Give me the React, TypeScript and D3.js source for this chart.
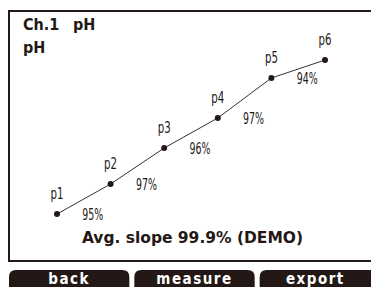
import React from "react";
import * as d3 from "d3";

const points = ["p1", "p2", "p3", "p4", "p5", "p6"];
const readings = [36, 66, 102, 132, 172, 190];
const slopes = ["95%", "97%", "96%", "97%", "94%"];
const buttons = ["back", "measure", "export"];

const W = 371;
const H = 287;
const ink = "#231815";
const narrow = "'DejaVu Sans Condensed', 'Liberation Sans Narrow', sans-serif";

const App = () => {
  const x = d3.scalePoint().domain(points).range([57, 325]);
  const y = d3.scaleLinear().domain([0, 250]).range([250, 0]);

  const data = points.map((p, i) => ({ p, v: readings[i] }));
  const line = d3
    .line<{ p: string; v: number }>()
    .x(d => x(d.p) as number)
    .y(d => y(d.v));

  const btnX = d3.scaleBand().domain(buttons).range([9, 380]).paddingInner(0.04);

  // rounded top corners only
  const btnPath = (x0: number, w: number) => {
    const r = 7;
    const top = 270;
    const bot = 292;
    return `M${x0},${bot} L${x0},${top + r} Q${x0},${top} ${x0 + r},${top} L${x0 + w - r},${top} Q${x0 + w},${top} ${x0 + w},${top + r} L${x0 + w},${bot} Z`;
  };

  return (
    <svg
      width={W}
      height={H}
      style={{ position: "absolute", left: 0, top: 0, background: "#fff" }}
    >
      <rect x={9} y={11} width={380} height={250} fill="none" stroke={ink} strokeWidth={2} />

      <text x={23} y={30} fontFamily={narrow} fontWeight="bold" fontSize={16} fill={ink}>
        Ch.1
      </text>
      <text x={73} y={30} fontFamily={narrow} fontWeight="bold" fontSize={16} fill={ink}>
        pH
      </text>
      <text x={23} y={53} fontFamily={narrow} fontWeight="bold" fontSize={16} fill={ink}>
        pH
      </text>

      <path d={line(data) as string} fill="none" stroke="#3a3030" strokeWidth={1} />

      {data.map(d => (
        <g key={d.p}>
          <circle cx={x(d.p)} cy={y(d.v)} r={3} fill={ink} />
          <text
            x={x(d.p)}
            y={y(d.v) - 15}
            textAnchor="middle"
            fontFamily={narrow}
            fontSize={15}
            textLength={13}
            lengthAdjust="spacingAndGlyphs"
            fill={ink}
          >
            {d.p}
          </text>
        </g>
      ))}

      {slopes.map((s, i) => {
        const a = data[i];
        const b = data[i + 1];
        const mx = ((x(a.p) as number) + (x(b.p) as number)) / 2 + 9;
        return (
          <text
            key={i}
            x={mx - 10.5}
            y={y(a.v) + 6}
            fontFamily={narrow}
            fontSize={15}
            textLength={21}
            lengthAdjust="spacingAndGlyphs"
            fill={ink}
          >
            {s}
          </text>
        );
      })}

      <text
        x={82}
        y={243}
        fontFamily={narrow}
        fontWeight="bold"
        fontSize={16}
        textLength={221}
        lengthAdjust="spacingAndGlyphs"
        fill={ink}
      >
        Avg. slope 99.9% (DEMO)
      </text>

      {buttons.map(b => {
        const bx = btnX(b) as number;
        const bw = btnX.bandwidth();
        const cx = b === "export" ? (bx + W) / 2 : bx + bw / 2;
        return (
          <g key={b}>
            <path d={btnPath(bx, bw)} fill={ink} />
            <text
              x={cx}
              y={284}
              textAnchor="middle"
              fontFamily={narrow}
              fontWeight="bold"
              fontSize={15}
              fill="#fff"
              letterSpacing={1.5}
            >
              {b}
            </text>
          </g>
        );
      })}
    </svg>
  );
};

export default App;
